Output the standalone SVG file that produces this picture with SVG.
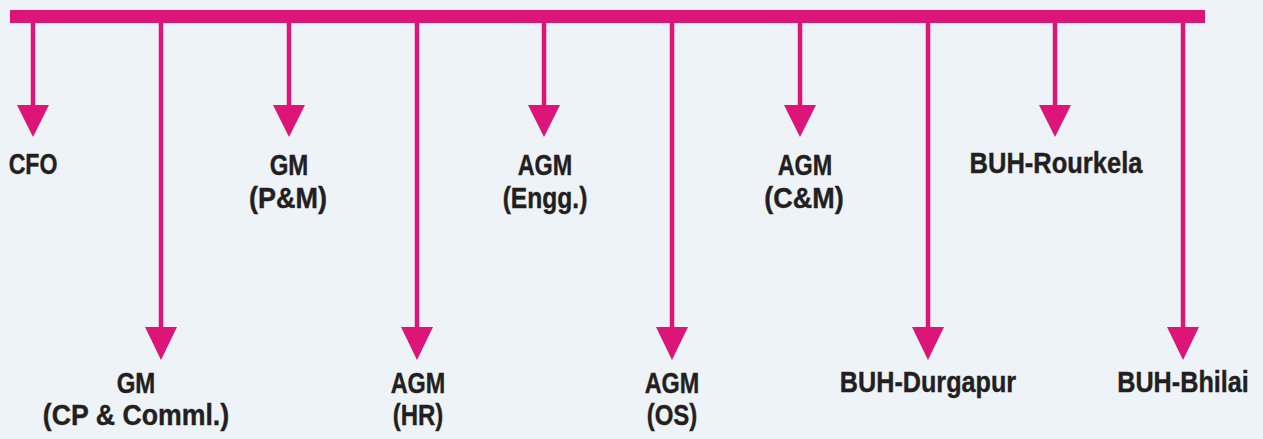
<svg xmlns="http://www.w3.org/2000/svg" width="1263" height="439" viewBox="0 0 1263 439">
<defs>
<style>
.bg{fill:#eef3f8}
.bar{fill:#de1578}
.ln{stroke:#de1578;stroke-width:4.5;fill:none}
.hd{fill:#de1578}
.t{font-family:'Liberation Sans','Arial',sans-serif;font-weight:bold;font-size:30px;fill:#231f20;stroke:#231f20;stroke-width:0.4;text-anchor:middle}
</style>
</defs>
<rect class="bg" x="0" y="0" width="1263" height="439"/>
<g id="connectors">
<rect class="bar" x="10" y="10" width="1195" height="13"/>
<line class="ln" x1="33" y1="20" x2="33" y2="108"/><polygon class="hd" points="17,105 49,105 33,137"/>
<line class="ln" x1="289" y1="20" x2="289" y2="108"/><polygon class="hd" points="273,105 305,105 289,137"/>
<line class="ln" x1="544" y1="20" x2="544" y2="108"/><polygon class="hd" points="528,105 560,105 544,137"/>
<line class="ln" x1="800" y1="20" x2="800" y2="108"/><polygon class="hd" points="784,105 816,105 800,137"/>
<line class="ln" x1="1055" y1="20" x2="1055" y2="108"/><polygon class="hd" points="1039,105 1071,105 1055,137"/>
<line class="ln" x1="161" y1="20" x2="161" y2="330"/><polygon class="hd" points="145,327 177,327 161,360"/>
<line class="ln" x1="417" y1="20" x2="417" y2="330"/><polygon class="hd" points="401,327 433,327 417,360"/>
<line class="ln" x1="672" y1="20" x2="672" y2="330"/><polygon class="hd" points="656,327 688,327 672,360"/>
<line class="ln" x1="928" y1="20" x2="928" y2="330"/><polygon class="hd" points="912,327 944,327 928,360"/>
<line class="ln" x1="1183" y1="20" x2="1183" y2="330"/><polygon class="hd" points="1167,327 1199,327 1183,360"/>
</g>
<g id="cfo"><text class="t" transform="translate(33 174) scale(.77 1)">CFO</text></g>
<g id="gm-pm"><text class="t" transform="translate(289 175) scale(.8 1)">GM</text><text class="t" transform="translate(288 208) scale(.9 1)">(P&amp;M)</text></g>
<g id="agm-engg"><text class="t" transform="translate(545 175) scale(.78 1)">AGM</text><text class="t" transform="translate(545 208) scale(.82 1)">(Engg.)</text></g>
<g id="agm-cm"><text class="t" transform="translate(805 175) scale(.78 1)">AGM</text><text class="t" transform="translate(804 208) scale(.9 1)">(C&amp;M)</text></g>
<g id="buh-rourkela"><text class="t" transform="translate(1056 173) scale(.85 1)">BUH-Rourkela</text></g>
<g id="gm-cp"><text class="t" transform="translate(136 393) scale(.8 1)">GM</text><text class="t" transform="translate(136 425) scale(.89 1)">(CP &amp; Comml.)</text></g>
<g id="agm-hr"><text class="t" transform="translate(418 393) scale(.78 1)">AGM</text><text class="t" transform="translate(418 425) scale(.8 1)">(HR)</text></g>
<g id="agm-os"><text class="t" transform="translate(672 393) scale(.78 1)">AGM</text><text class="t" transform="translate(672 425) scale(.8 1)">(OS)</text></g>
<g id="buh-durgapur"><text class="t" transform="translate(928 392) scale(.84 1)">BUH-Durgapur</text></g>
<g id="buh-bhilai"><text class="t" transform="translate(1183 392) scale(.84 1)">BUH-Bhilai</text></g>
</svg>
